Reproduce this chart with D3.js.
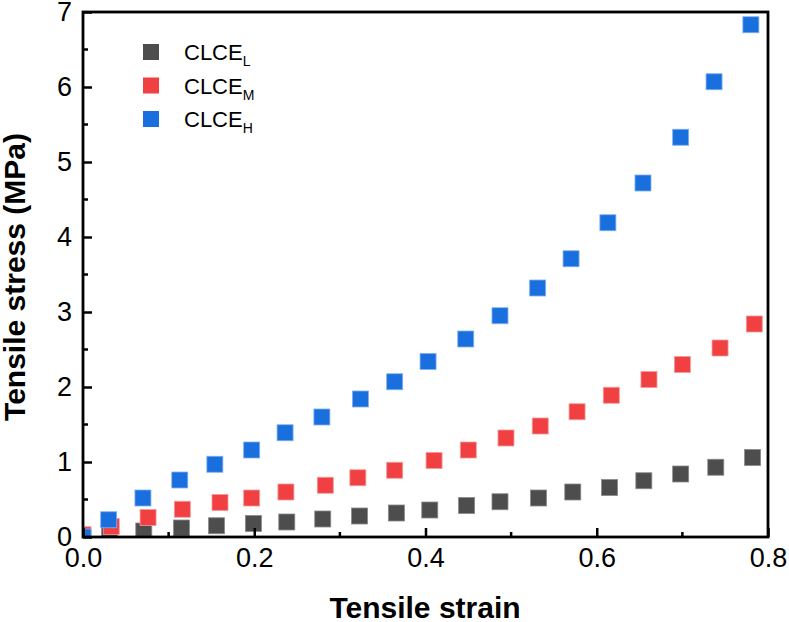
<!DOCTYPE html>
<html lang="en">
<head>
  <meta charset="UTF-8" />
  <title>Tensile stress vs strain</title>
  <script src="https://d3js.org/d3.v7.min.js"></script>
  <style>
    body { margin: 0; background: #fff; }
    text { font-family: "Liberation Sans", Arial, sans-serif; fill: #000; }
  </style>
</head>
<body>
  <svg id="chart" width="789" height="622"></svg>

  <script>
    // data
    const strainL = [0, 0.031, 0.071, 0.115, 0.156, 0.199, 0.238, 0.280, 0.323, 0.366, 0.405, 0.448, 0.487, 0.532, 0.572, 0.615, 0.655, 0.698, 0.739, 0.782];
    const stressL = [0, 0.03, 0.08, 0.12, 0.15, 0.18, 0.20, 0.24, 0.28, 0.32, 0.36, 0.42, 0.47, 0.52, 0.60, 0.66, 0.75, 0.84, 0.93, 1.06];

    const strainM = [0, 0.033, 0.076, 0.116, 0.160, 0.197, 0.237, 0.283, 0.321, 0.364, 0.410, 0.450, 0.494, 0.534, 0.577, 0.617, 0.661, 0.700, 0.744, 0.784];
    const stressM = [0.03, 0.14, 0.26, 0.37, 0.46, 0.52, 0.60, 0.69, 0.79, 0.89, 1.02, 1.16, 1.32, 1.48, 1.67, 1.89, 2.10, 2.30, 2.52, 2.84];

    const strainH = [0, 0.030, 0.070, 0.113, 0.154, 0.197, 0.236, 0.279, 0.324, 0.364, 0.403, 0.447, 0.487, 0.531, 0.570, 0.613, 0.654, 0.698, 0.737, 0.780];
    const stressH = [0, 0.23, 0.52, 0.76, 0.97, 1.16, 1.39, 1.60, 1.84, 2.07, 2.34, 2.64, 2.95, 3.32, 3.71, 4.19, 4.72, 5.33, 6.07, 6.83];

    const seriesNames = ["L", "M", "H"];
    const xTicks = [0, 0.2, 0.4, 0.6, 0.8];
    const yTicks = [0, 1, 2, 3, 4, 5, 6, 7];

    const series = [
      { xs: strainL, ys: stressL, fill: "#4d4d4d", edge: "#8a8a8a" },
      { xs: strainM, ys: stressM, fill: "#f04042", edge: "#f79a9a" },
      { xs: strainH, ys: stressH, fill: "#1a6fdf", edge: "#7fb0f0" }
    ];

    const svg = d3.select("#chart");
    const plotL = 83, plotR = 768, plotT = 12, plotB = 537;

    const x = d3.scaleLinear().domain([0, 0.8]).range([plotL, plotR]);
    const y = d3.scaleLinear().domain([0, 7]).range([plotB, plotT]);

    svg.append("defs").append("clipPath").attr("id", "plotClip")
      .append("rect")
      .attr("x", plotL).attr("y", plotT)
      .attr("width", plotR - plotL).attr("height", plotB - plotT);

    const size = 16;
    const plot = svg.append("g").attr("clip-path", "url(#plotClip)");

    series.forEach(s => {
      const pts = s.xs.map((v, i) => [v, s.ys[i]]);
      plot.append("g")
        .selectAll("rect")
        .data(pts)
        .enter()
        .append("rect")
        .attr("x", d => x(d[0]) - size / 2)
        .attr("y", d => y(d[1]) - size / 2)
        .attr("width", size)
        .attr("height", size)
        .attr("fill", s.fill)
        .attr("stroke", s.edge)
        .attr("stroke-width", 0.8);
    });

    // ticks point inward
    const xAxis = d3.axisBottom(x).tickValues(xTicks).tickFormat(d3.format(".1f"))
      .tickSizeInner(-9).tickSizeOuter(0).tickPadding(11);
    const gx = svg.append("g").attr("transform", `translate(0,${plotB})`).call(xAxis);

    const yAxis = d3.axisLeft(y).tickValues(yTicks).tickFormat(d3.format("d"))
      .tickSizeInner(-9).tickSizeOuter(0).tickPadding(11);
    const gy = svg.append("g").attr("transform", `translate(${plotL},0)`).call(yAxis);

    [gx, gy].forEach(g => {
      g.select(".domain").remove();
      g.selectAll(".tick line").attr("stroke", "#000").attr("stroke-width", 2.5);
      g.selectAll(".tick text").style("font-size", "27px").attr("fill", "#000");
    });

    // minor ticks
    const xMinor = d3.range(0.1, 0.8, 0.2);
    svg.append("g").selectAll("line").data(xMinor).enter().append("line")
      .attr("x1", d => x(d)).attr("x2", d => x(d))
      .attr("y1", plotB).attr("y2", plotB - 5)
      .attr("stroke", "#000").attr("stroke-width", 2.5);

    const yMinor = d3.range(0.5, 7, 1);
    svg.append("g").selectAll("line").data(yMinor).enter().append("line")
      .attr("x1", plotL).attr("x2", plotL + 5)
      .attr("y1", d => y(d)).attr("y2", d => y(d))
      .attr("stroke", "#000").attr("stroke-width", 2.5);

    // frame
    svg.append("rect")
      .attr("x", plotL).attr("y", plotT)
      .attr("width", plotR - plotL).attr("height", plotB - plotT)
      .attr("fill", "none").attr("stroke", "#000").attr("stroke-width", 2.8);

    // axis titles
    svg.append("text")
      .attr("x", 425).attr("y", 618)
      .attr("text-anchor", "middle")
      .style("font-size", "30px").style("font-weight", "bold")
      .text("Tensile strain");

    svg.append("text")
      .attr("transform", `translate(25,277) rotate(-90)`)
      .attr("text-anchor", "middle")
      .style("font-size", "30px").style("font-weight", "bold")
      .text("Tensile stress (MPa)");

    // legend
    const legend = svg.append("g");
    series.forEach((s, i) => {
      const cy = 52 + i * 33.5;
      legend.append("rect")
        .attr("x", 143).attr("y", cy - 8)
        .attr("width", 16).attr("height", 16)
        .attr("fill", s.fill);
      const t = legend.append("text")
        .attr("x", 184).attr("y", cy + 8)
        .style("font-size", "22px");
      t.append("tspan").text("CLCE");
      t.append("tspan")
        .attr("dy", 6)
        .style("font-size", "14px")
        .text(seriesNames[i]);
    });
  </script>
</body>
</html>
